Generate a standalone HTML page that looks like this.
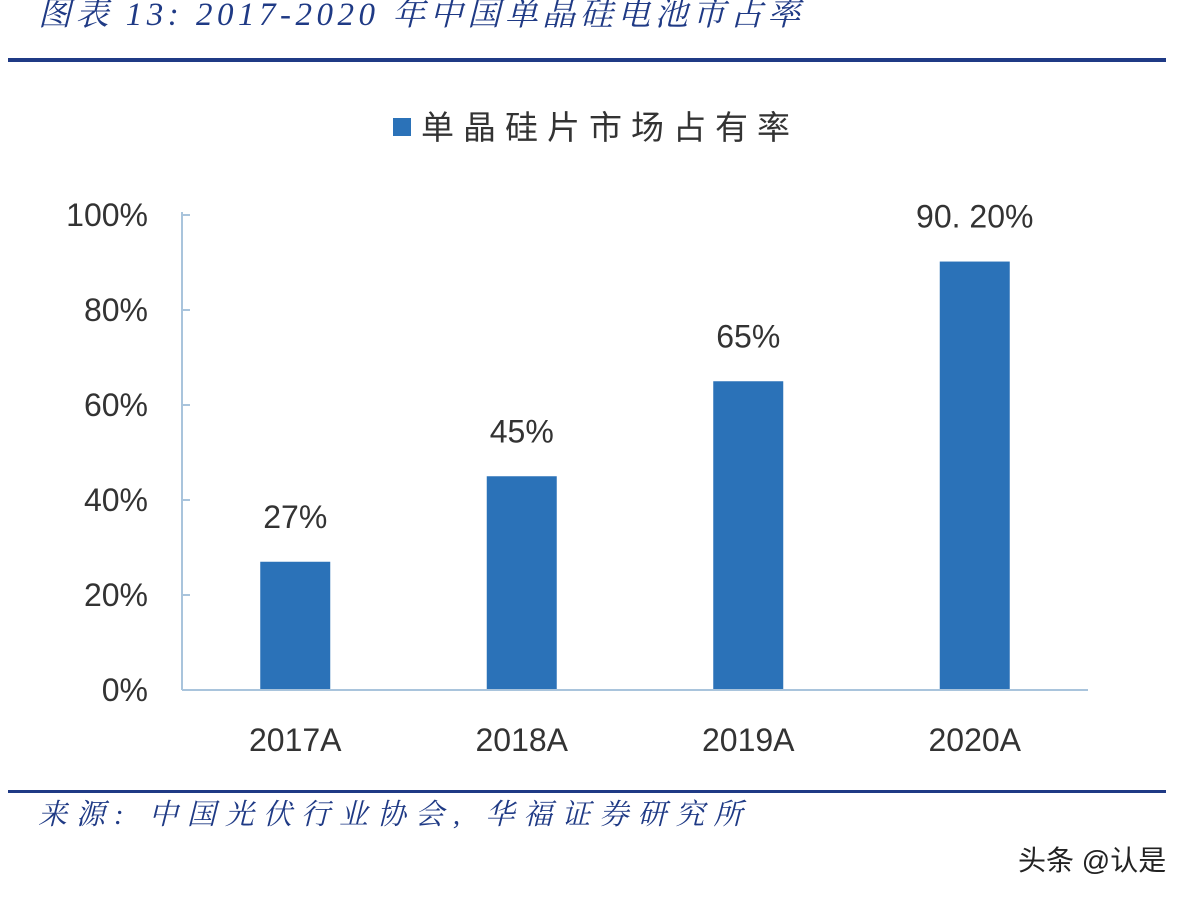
<!DOCTYPE html>
<html><head><meta charset="utf-8"><style>
html,body{margin:0;padding:0;background:#fff;width:1204px;height:900px;overflow:hidden}
svg{display:block}
</style></head><body>
<svg id="c" width="1204" height="900" xmlns="http://www.w3.org/2000/svg">
<text x="38" y="25" font-family="'Liberation Serif','Noto Serif CJK SC',serif" font-style="italic" font-size="33" letter-spacing="4.5" fill="#1f3a85">图表 13:  2017-2020 年中国单晶硅电池市占率</text>
<rect x="8" y="58" width="1158" height="4" fill="#1f3a85"/>
<rect x="393" y="118" width="18" height="18" fill="#2b72b8"/>
<text x="421" y="139" font-family="'Liberation Sans','Noto Sans CJK SC',sans-serif" font-size="33" letter-spacing="9" fill="#333">单晶硅片市场占有率</text>
<g id="plot"></g>
<rect x="8" y="790" width="1158" height="3" fill="#1f3a85"/>
<text x="38" y="824" font-family="'Liberation Serif','Noto Serif CJK SC',serif" font-style="italic" font-size="29" letter-spacing="9" fill="#1f3a85">来源:  中国光伏行业协会,  华福证券研究所</text>
<text x="1018" y="870" font-family="'Liberation Sans','Noto Sans CJK SC',sans-serif" font-size="28" fill="#222">头条 @认是</text>
</svg>
<script>
const categories = ["2017A","2018A","2019A","2020A"];
const values = [27,45,65,90.2];
const valueLabels = ["27%","45%","65%","90. 20%"];
const yTicks = [0,20,40,60,80,100];
const yTickLabels = ["0%","20%","40%","60%","80%","100%"];

const NS="http://www.w3.org/2000/svg";
const g=document.getElementById('plot');
const X0=182,X1=1088,Y0=690,Y1=215;
const y=v=>Y0-(v/100)*(Y0-Y1);
const band=(X1-X0)/categories.length;
const xc=i=>X0+band*(i+0.5);
const BW=70;
const font="'Liberation Sans','Noto Sans CJK SC',sans-serif";
function mk(tag,attrs){const e=document.createElementNS(NS,tag);for(const k in attrs)e.setAttribute(k,attrs[k]);g.appendChild(e);return e;}

yTicks.forEach((t,i)=>{
  const tk=mk('line',{x1:X0,x2:X0+8,y1:y(t),y2:y(t),stroke:'#a9c4dc','stroke-width':2});
  
  
  const lb=mk('text',{x:148,y:y(t)+11,'text-anchor':'end','font-family':font,'font-size':32,fill:'#333'});
  lb.textContent=yTickLabels[i];
  
  
});
const ya=mk('line',{x1:X0,x2:X0,y1:212,y2:Y0,stroke:'#a9c4dc','stroke-width':2});



categories.forEach((c,i)=>{
  const b=mk('rect',{x:xc(i)-BW/2,y:y(values[i]),width:BW,height:Y0-y(values[i]),fill:'#2b72b8'});
  
  
  const vl=mk('text',{x:xc(i),y:y(values[i])-34,'text-anchor':'middle','font-family':font,'font-size':32,fill:'#333'});
  vl.textContent=valueLabels[i];
  
  
  const cl=mk('text',{x:xc(i),y:751,'text-anchor':'middle','font-family':font,'font-size':32,fill:'#333'});
  cl.textContent=c;
  
  
});
const xa=mk('line',{x1:X0,x2:X1,y1:Y0,y2:Y0,stroke:'#a9c4dc','stroke-width':2});


</script>
</body></html>
